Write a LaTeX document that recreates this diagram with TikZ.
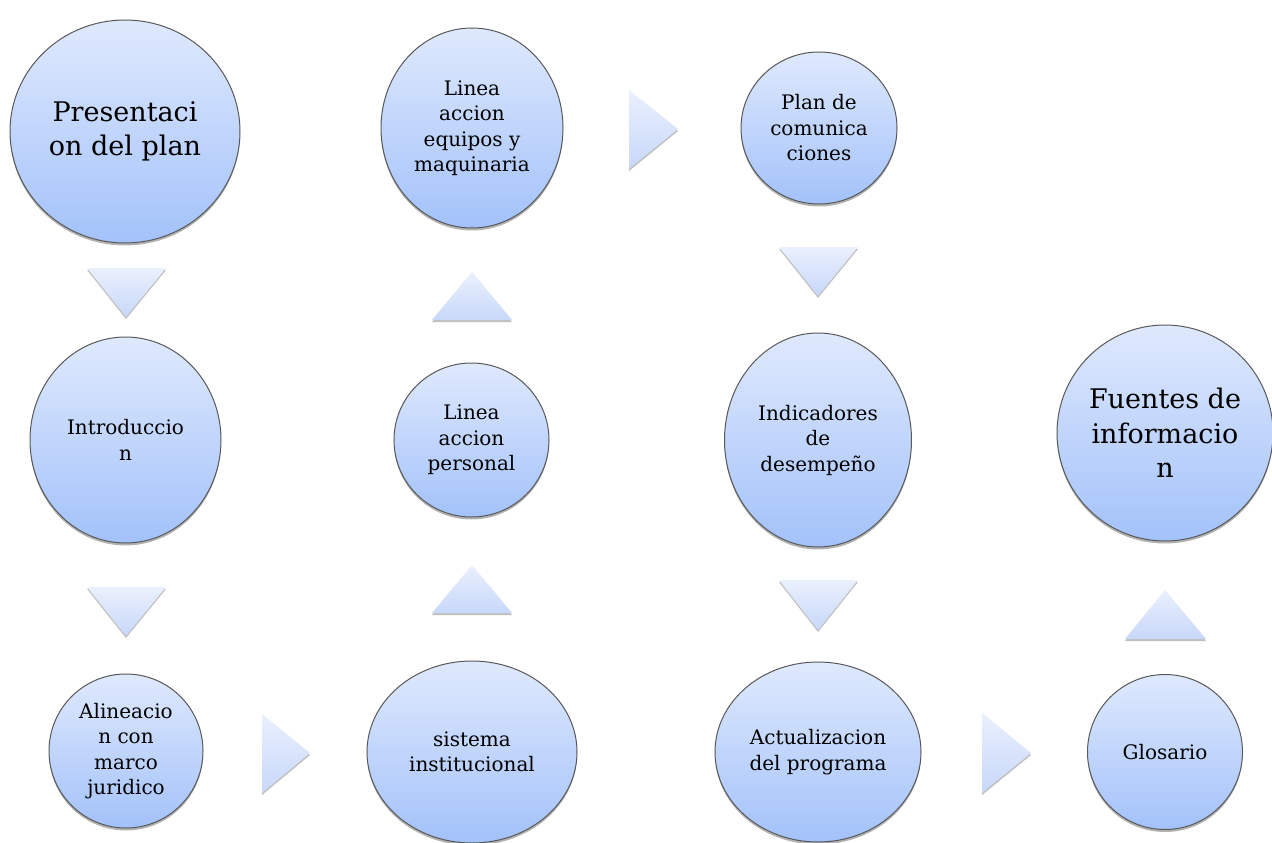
\documentclass[tikz,border=0pt]{standalone}
\usepackage{fontspec}
\setmainfont{DejaVu Serif}
\usetikzlibrary{shapes.geometric,shadows}
\definecolor{bubtop}{RGB}{223,233,253}
\definecolor{bubbot}{RGB}{163,194,250}
\definecolor{tritop}{RGB}{234,240,253}
\definecolor{tribot}{RGB}{200,216,250}
\begin{document}
\begin{tikzpicture}[x=1pt,y=-1pt,
  bubble/.style={ellipse, draw=black!65, line width=1pt, top color=bubtop, bottom color=bubbot, inner sep=0pt,
     drop shadow={shadow xshift=0pt, shadow yshift=-2.5pt, opacity=0.3, fill=black}},
  lbl/.style={align=center, inner sep=0pt, font=\fontsize{20}{25.5}\selectfont},
  biglbl/.style={align=center, inner sep=0pt, font=\fontsize{27}{34.5}\selectfont},
  tri/.style={top color=tritop, bottom color=tribot, draw=none,
     drop shadow={shadow xshift=0pt, shadow yshift=-2pt, opacity=0.25, fill=black}}]
\useasboundingbox (0,0) rectangle (1272,843);
\fill[white] (0,0) rectangle (1272,843);

% bubbles
\node[bubble, minimum width=230pt, minimum height=223pt] (b1) at (125,131.5) {};
\node[biglbl] (t1) at (b1) {Presentaci\\on del plan};
\node[bubble, minimum width=191pt, minimum height=206pt] (b2) at (125.5,440) {};
\node[lbl] (t2) at (b2) {Introduccio\\n};
\node[bubble, minimum width=154pt, minimum height=154pt] (b3) at (126,751) {};
\node[lbl] (t3) at (b3) {Alineacio\\n con\\marco\\juridico};
\node[bubble, minimum width=210pt, minimum height=182pt] (b4) at (472,752) {};
\node[lbl] (t4) at (b4) {sistema\\institucional};
\node[bubble, minimum width=155pt, minimum height=154pt] (b5) at (471.5,440) {};
\node[lbl] (t5) at (b5) {Linea\\accion\\personal};
\node[bubble, minimum width=182pt, minimum height=200pt] (b6) at (472,128) {};
\node[lbl] (t6) at (b6) {Linea\\accion\\equipos y\\maquinaria};
\node[bubble, minimum width=156pt, minimum height=152pt] (b7) at (819,128) {};
\node[lbl] (t7) at (b7) {Plan de\\comunica\\ciones};
\node[bubble, minimum width=187pt, minimum height=214pt] (b8) at (818,440) {};
\node[lbl] (t8) at (b8) {Indicadores\\de\\desempeño};
\node[bubble, minimum width=206pt, minimum height=180pt] (b9) at (818,752) {};
\node[lbl] (t9) at (b9) {Actualizacion\\del programa};
\node[bubble, minimum width=155pt, minimum height=155pt] (b10) at (1165,752) {};
\node[lbl] (t10) at (b10) {Glosario};
\node[bubble, minimum width=216pt, minimum height=216pt] (b11) at (1165,433) {};
\node[biglbl] (t11) at (b11) {Fuentes de\\informacio\\n};

% triangles
\path[tri] (87,268) -- (166,268) -- (126,317) -- cycle;
\path[tri] (87,587) -- (166,587) -- (126,636) -- cycle;
\path[tri] (262,714) -- (310,753) -- (262,793) -- cycle;
\path[tri] (472,565) -- (512,613) -- (432,613) -- cycle;
\path[tri] (472,272) -- (512,320) -- (432,320) -- cycle;
\path[tri] (629,90) -- (678,129) -- (629,169) -- cycle;
\path[tri] (779,247) -- (858,247) -- (818,296) -- cycle;
\path[tri] (779,580) -- (858,580) -- (818,630) -- cycle;
\path[tri] (982,713) -- (1031,753) -- (982,793) -- cycle;
\path[tri] (1165,590) -- (1206,639) -- (1125,639) -- cycle;
\end{tikzpicture}
\end{document}
